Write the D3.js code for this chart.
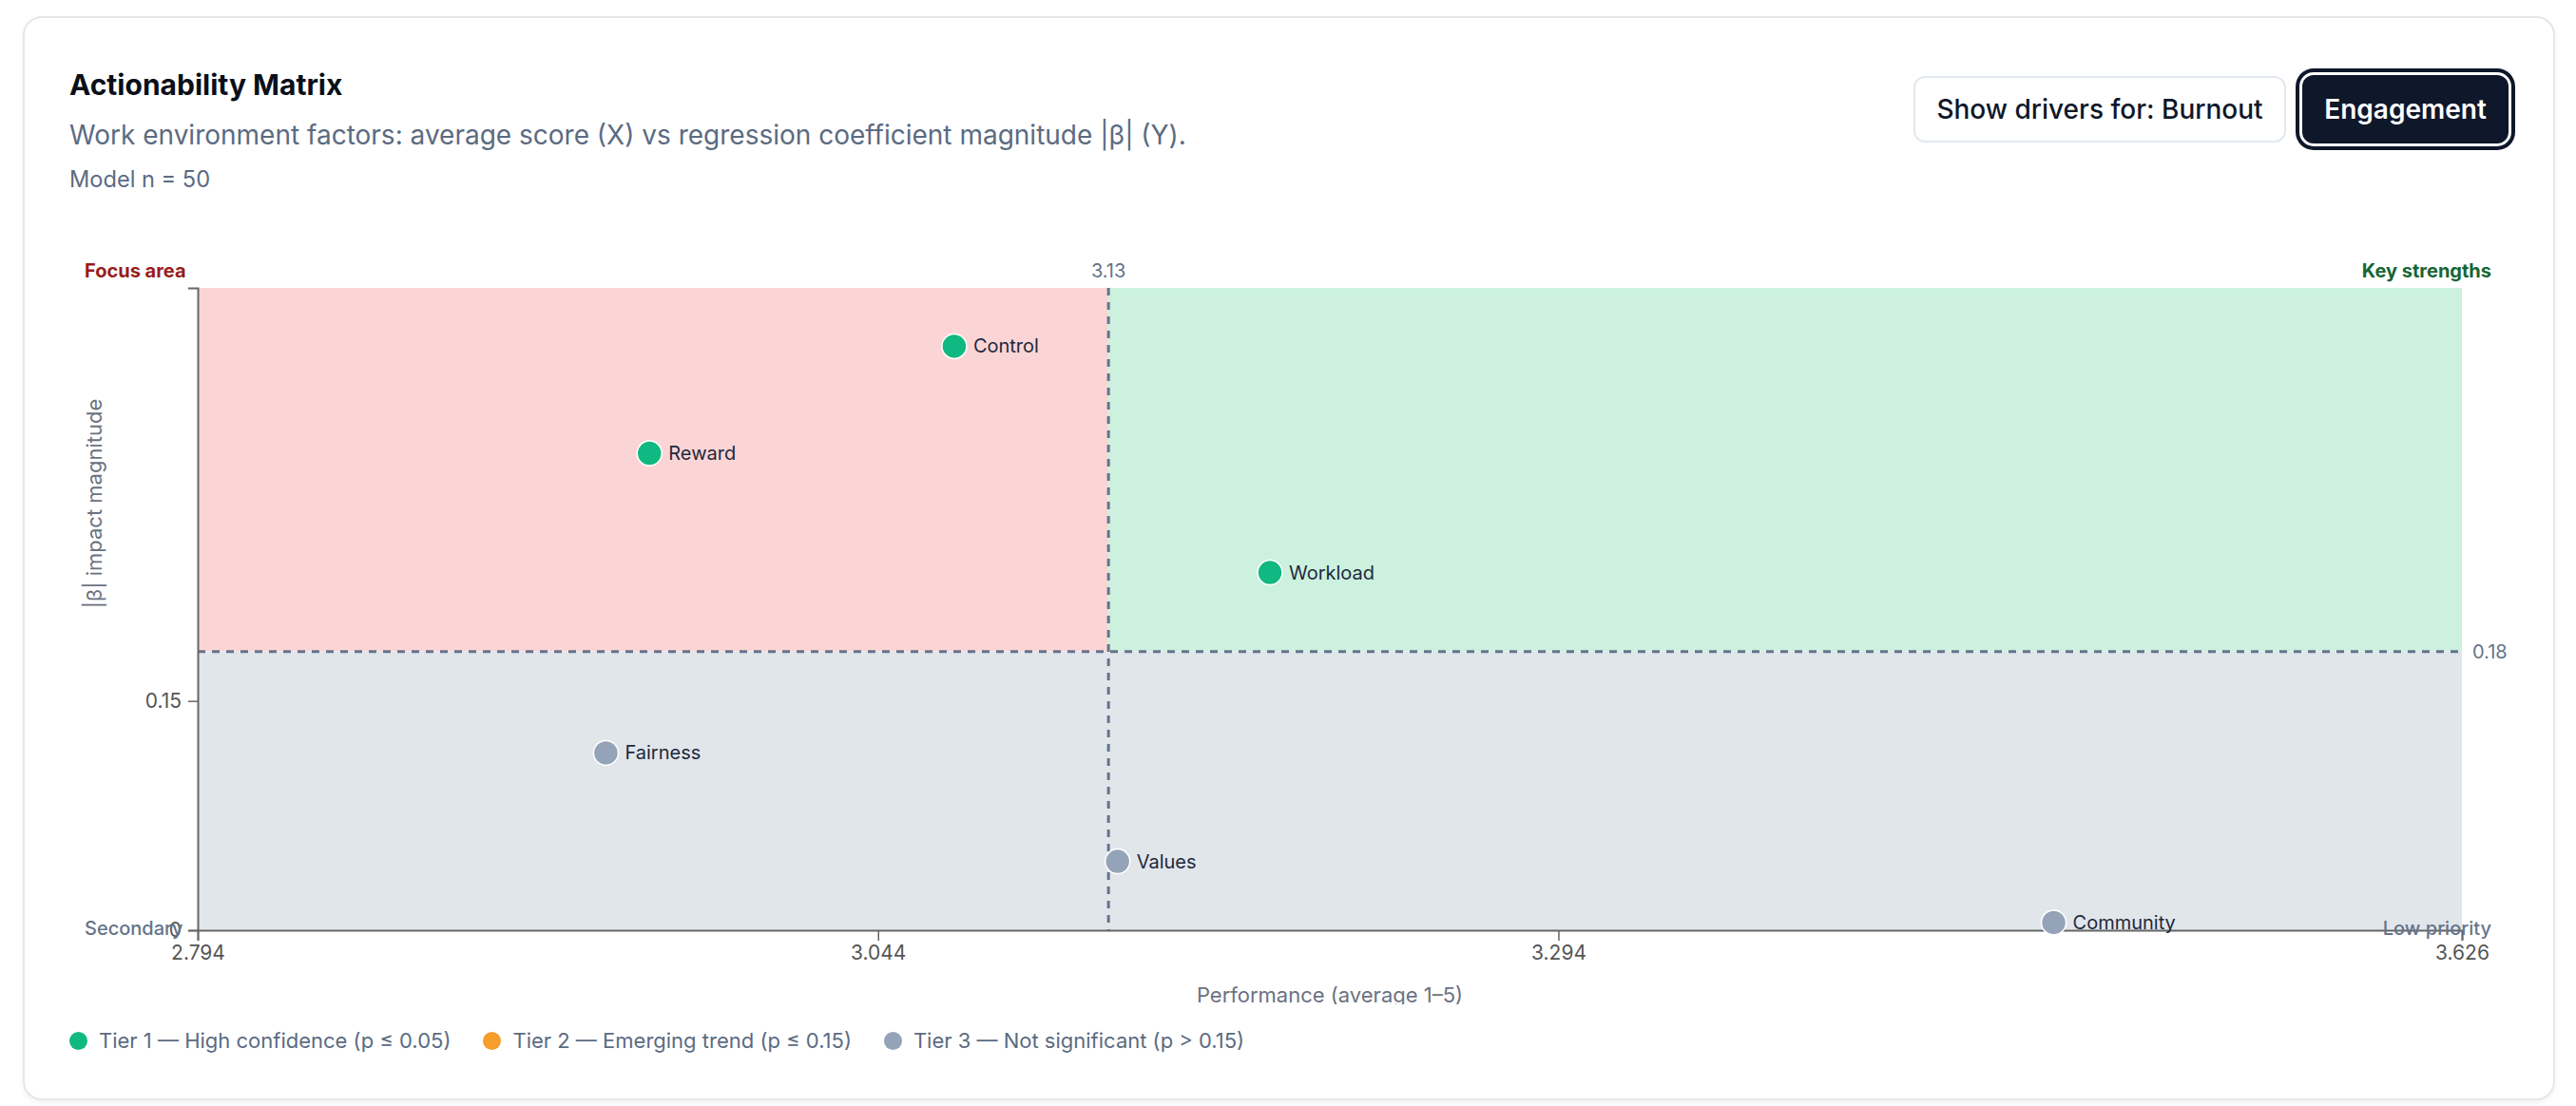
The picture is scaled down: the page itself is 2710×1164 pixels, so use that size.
<!DOCTYPE html>
<html>
<head>
<meta charset="utf-8">
<script src="https://cdn.jsdelivr.net/npm/d3@7"></script>
<style>
  body { margin: 0; background: #fff; font-family: "Inter", sans-serif; width: 2710px; height: 1164px; position: relative; overflow: hidden; }
  .card { position: absolute; left: 24px; top: 17px; width: 2660px; height: 1137px; border: 2px solid #e5e7eb; border-radius: 20px; box-shadow: 0 3px 6px rgba(15,23,42,0.05); background: #fff; }
  .abs { position: absolute; line-height: 1; white-space: nowrap; }
  .title { left: 73px; top: 74px; font-size: 30px; font-weight: 700; color: #0b0f19; }
  .subtitle { left: 73px; top: 128px; font-size: 28px; color: #5b6b82; }
  .meta { left: 73px; top: 177px; font-size: 23.6px; color: #5b6b82; }
  .btn { position: absolute; box-sizing: border-box; border-radius: 12px; font-family: "Inter", sans-serif; font-size: 28px; display: flex; align-items: center; justify-content: center; }
  .btn.off { left: 2013px; top: 80px; width: 392px; height: 70px; border: 2px solid #e2e8f0; background: #fff; color: #0f172a; font-weight: 500; }
  .btn.on { left: 2422px; top: 79px; width: 217px; height: 72px; border: none; background: #0f172a; color: #fff; font-weight: 600; box-shadow: 0 0 0 3px #fff, 0 0 0 7px #0f172a; }
  svg { position: absolute; left: 0; top: 0; }
  .legend { position: absolute; left: 73px; top: 1083px; display: flex; gap: 34px; font-size: 22px; color: #5b6b82; }
  .legend .item { display: flex; align-items: center; gap: 12px; height: 24px; }
  .legend .dot { width: 19px; height: 19px; border-radius: 50%; }
</style>
</head>
<body>
<div class="card"></div>
<div class="abs title">Actionability Matrix</div>
<div class="abs subtitle">Work environment factors: average score (X) vs regression coefficient magnitude |β| (Y).</div>
<div class="abs meta">Model n = 50</div>
<button class="btn off">Show drivers for: Burnout</button>
<button class="btn on">Engagement</button>
<div class="legend" id="legend"></div>
<script>
// factor data
var factors = ["Control", "Reward", "Workload", "Fairness", "Values", "Community"];
var avgScore = [3.072, 2.960, 3.188, 2.944, 3.132, 3.476];
var betaAbs = [0.382, 0.312, 0.234, 0.116, 0.045, 0.005];
var tiers = [1, 1, 1, 3, 3, 3];

var xTicks = [2.794, 3.044, 3.294, 3.626];
var yTicks = [0, 0.15];

var tierNames = ["Tier 1 — High confidence (p ≤ 0.05)", "Tier 2 — Emerging trend (p ≤ 0.15)", "Tier 3 — Not significant (p > 0.15)"];
var tierColors = ["#10b981", "#f59e2b", "#94a3b8"];

var margin = {left: 208, top: 303};
var width = 2382, height = 676;

var svg = d3.select("body").append("svg")
    .attr("width", 2710)
    .attr("height", 1057);

var g = svg.append("g").attr("transform", "translate(" + margin.left + "," + margin.top + ")");

var xExt = d3.extent(avgScore);
var x = d3.scaleLinear()
    .domain([xExt[0] - 0.15, xExt[1] + 0.15])
    .range([0, width]);
var y = d3.scaleLinear()
    .domain([0, d3.max(betaAbs) * 1.1])
    .range([height, 0]);

var xMid = d3.mean(avgScore);
var yMid = d3.mean(betaAbs);

// quadrant backgrounds
g.append("rect").attr("x", 0).attr("y", 0)
    .attr("width", x(xMid)).attr("height", y(yMid)).attr("fill", "#fbd5d5");
g.append("rect").attr("x", x(xMid)).attr("y", 0)
    .attr("width", width - x(xMid)).attr("height", y(yMid)).attr("fill", "#ccf1de");
g.append("rect").attr("x", 0).attr("y", y(yMid))
    .attr("width", width).attr("height", height - y(yMid)).attr("fill", "#e1e6eb");

// mean lines
g.append("line").attr("x1", x(xMid)).attr("x2", x(xMid)).attr("y1", 0).attr("y2", height)
    .attr("stroke", "#64748b").attr("stroke-width", 3).attr("stroke-dasharray", "8,7");
g.append("line").attr("x1", 0).attr("x2", width).attr("y1", y(yMid)).attr("y2", y(yMid))
    .attr("stroke", "#64748b").attr("stroke-width", 3).attr("stroke-dasharray", "8,7");

g.append("text").attr("x", x(xMid)).attr("y", -11)
    .attr("text-anchor", "middle").attr("font-size", 20).attr("fill", "#64748b")
    .text(xMid.toFixed(2));
g.append("text").attr("x", width + 11).attr("y", y(yMid)).attr("dy", "0.35em")
    .attr("font-size", 20).attr("fill", "#64748b")
    .text(yMid.toFixed(2));

// axes
var xAxis = g.append("g").attr("transform", "translate(0," + height + ")")
    .call(d3.axisBottom(x).tickValues(xTicks).tickFormat(d3.format(".3f")).tickSize(11).tickPadding(5));
var yAxis = g.append("g")
    .call(d3.axisLeft(y).tickValues(yTicks).tickFormat(function(d){ return d === 0 ? "0" : d3.format(".2f")(d); }).tickSize(10).tickPadding(7));

[xAxis, yAxis].forEach(function(a){
    a.select(".domain").attr("stroke", "#666").attr("stroke-width", 2);
    a.selectAll(".tick line").attr("stroke", "#666").attr("stroke-width", 1.5);
    a.selectAll(".tick text").attr("font-family", "Inter, sans-serif").attr("font-size", 21).attr("fill", "#555");
});

// quadrant labels
var corner = [
    {t: "Focus area", x: -119, y: -11, anchor: "start", color: "#991b1b", w: 700},
    {t: "Key strengths", x: width + 31, y: -11, anchor: "end", color: "#166534", w: 700},
    {t: "Secondary", x: -119, y: height + 5, anchor: "start", color: "#64748b", w: 500},
    {t: "Low priority", x: width + 31, y: height + 5, anchor: "end", color: "#64748b", w: 500}
];
g.selectAll(".corner").data(corner).enter().append("text")
    .attr("x", function(d){ return d.x; })
    .attr("y", function(d){ return d.y; })
    .attr("text-anchor", function(d){ return d.anchor; })
    .attr("font-size", 20)
    .attr("font-weight", function(d){ return d.w; })
    .attr("fill", function(d){ return d.color; })
    .text(function(d){ return d.t; });

// axis titles
svg.append("text").attr("x", margin.left + width / 2).attr("y", 1055)
    .attr("text-anchor", "middle").attr("font-size", 22).attr("fill", "#6b7280")
    .text("Performance (average 1–5)");
svg.append("text").attr("transform", "translate(107,530) rotate(-90)")
    .attr("text-anchor", "middle").attr("font-size", 22).attr("fill", "#6b7280")
    .text("|β| impact magnitude");

// points
var pts = factors.map(function(f, i){ return {name: f, x: avgScore[i], y: betaAbs[i], tier: tiers[i]}; });

var node = g.selectAll(".pt").data(pts).enter().append("g")
    .attr("transform", function(d){ return "translate(" + x(d.x) + "," + y(d.y) + ")"; });
node.append("circle").attr("r", 13)
    .attr("fill", function(d){ return tierColors[d.tier - 1]; })
    .attr("stroke", "#fff").attr("stroke-width", 1.5);
node.append("text").attr("x", 20).attr("dy", "0.35em")
    .attr("font-size", 20).attr("fill", "#1e293b")
    .text(function(d){ return d.name; });

// legend
var items = d3.select("#legend").selectAll(".item").data(tierNames).enter()
    .append("div").attr("class", "item");
items.append("div").attr("class", "dot").style("background", function(d, i){ return tierColors[i]; });
items.append("span").text(function(d){ return d; });
</script>
</body>
</html>
